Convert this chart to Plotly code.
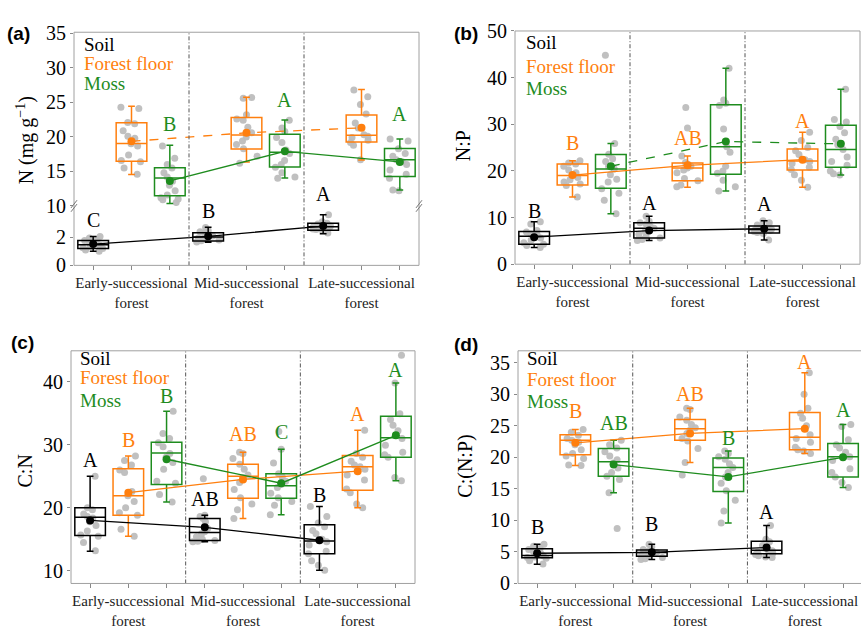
import plotly.graph_objects as go

W, H = 861, 635
SOIL_C, FLOOR_C, MOSS_C = "#000000", "#FF7F0E", "#1E8C1E"
PT_C = "#BDBDBD"
FRAME_C = "#A0A0A0"
SERIF = "Liberation Serif, Times New Roman, serif"

STANDS = ["Early-successional<br>forest", "Mid-successional<br>forest", "Late-successional<br>forest"]
TYPES = ["Soil", "Forest floor", "Moss"]

# ---------------- Panel (a): N (mg g-1) ----------------
A_SOIL_PTS = [[2.05, 1.95, 1.85, 1.78, 1.65, 1.55, 1.5, 1.45, 1.35, 1.25, 1.2, 1.1, 1.0],
              [2.7, 2.5, 2.4, 2.3, 2.2, 2.1, 2.05, 2.0, 1.95, 1.9, 1.8, 1.75, 1.66],
              [3.6, 3.1, 3.0, 2.95, 2.9, 2.85, 2.8, 2.75, 2.7, 2.6, 2.55, 2.5, 2.3]]
A_FLOOR_PTS = [[24.3, 24.1, 22.1, 21.9, 20.9, 20.1, 19.8, 19.0, 18.7, 17.4, 16.6, 16.4, 15.5, 14.6],
               [25.7, 25.6, 23.2, 22.6, 22.4, 21.4, 20.6, 20.0, 19.4, 18.9, 18.3, 17.2, 16.2],
               [26.8, 25.8, 24.7, 23.3, 22.0, 21.3, 20.3, 20.1, 19.9, 19.5, 19.2, 18.8, 16.7]]
A_MOSS_PTS = [[18.7, 16.9, 16.0, 15.5, 14.8, 14.2, 13.6, 13.0, 12.2, 11.6, 11.2, 11.0, 10.5, 10.9],
              [22.4, 21.3, 20.8, 19.9, 19.2, 18.1, 17.6, 16.6, 16.0, 15.6, 14.8, 14.2, 14.0],
              [19.7, 19.4, 18.3, 17.6, 17.2, 16.7, 16.4, 16.0, 15.2, 14.6, 14.0, 12.3, 12.2]]
A_SOIL_BOX = dict(lo=[1.0, 1.65, 2.25], q1=[1.2, 1.74, 2.5], med=[1.47, 2.02, 2.76],
                  q3=[1.78, 2.32, 3.0], hi=[2.05, 2.72, 3.6], mean=[1.52, 2.07, 2.8])
A_FLOOR_BOX = dict(lo=[14.56, 16.38, 16.66], q1=[16.47, 18.24, 19.26], med=[19.03, 20.29, 20.24],
                   q3=[22.06, 22.8, 23.17], hi=[24.43, 25.74, 26.85], mean=[19.36, 20.6, 21.31])
A_MOSS_BOX = dict(lo=[10.37, 14.05, 12.33], q1=[11.49, 15.63, 14.28], med=[14.05, 17.77, 16.7],
                  q3=[15.54, 20.38, 18.33], hi=[18.8, 22.43, 19.68], mean=[13.63, 17.91, 16.38])
A_SOIL_LET = ["C", "B", "A"]
A_FLOOR_LET = ["", "", ""]
A_MOSS_LET = ["B", "A", "A"]

# ---------------- Panel (b): N:P ----------------
B_SOIL_PTS = [[9.1, 8.6, 7.2, 6.9, 6.5, 6.2, 6.0, 5.6, 5.2, 4.6, 4.3, 4.0, 3.6],
              [10.3, 9.2, 8.9, 8.6, 8.1, 7.7, 7.4, 7.0, 6.4, 5.9, 5.6, 5.3, 5.1],
              [9.3, 8.9, 8.4, 8.0, 7.8, 7.5, 7.4, 7.2, 7.0, 6.8, 6.6, 5.2]]
B_FLOOR_PTS = [[22.2, 21.7, 21.5, 21.0, 20.2, 19.6, 19.0, 18.6, 18.1, 17.6, 17.2, 16.9, 14.4],
               [33.6, 29.2, 23.2, 21.8, 21.4, 21.0, 20.6, 20.2, 19.6, 18.4, 17.9, 17.0, 16.6],
               [28.3, 26.5, 25.0, 24.3, 23.5, 22.4, 22.0, 21.6, 20.8, 20.3, 19.2, 18.0, 16.5]]
B_MOSS_PTS = [[44.8, 25.9, 23.6, 22.6, 22.0, 21.0, 20.4, 19.2, 18.2, 17.6, 16.2, 15.2, 13.7, 10.8],
              [42.0, 35.2, 34.5, 34.0, 29.0, 25.2, 24.0, 21.0, 20.0, 19.5, 18.0, 16.6, 15.7],
              [37.5, 31.0, 30.5, 29.5, 28.2, 26.8, 25.6, 24.6, 23.0, 22.0, 21.2, 20.0, 19.4, 19.1]]
B_SOIL_BOX = dict(lo=[3.6, 5.1, 5.2], q1=[4.3, 5.6, 6.7], med=[6.0, 7.7, 7.45],
                  q3=[7.0, 8.9, 8.2], hi=[9.1, 10.3, 9.3], mean=[5.8, 7.2, 7.6])
B_FLOOR_BOX = dict(lo=[14.4, 16.5, 16.5], q1=[17.0, 17.9, 20.2], med=[19.0, 20.6, 22.1],
                   q3=[21.5, 21.7, 24.7], hi=[22.2, 23.2, 28.3], mean=[19.1, 21.2, 22.4])
B_MOSS_BOX = dict(lo=[10.8, 15.7, 19.1], q1=[16.3, 19.3, 20.8], med=[20.4, 25.2, 24.6],
                  q3=[23.5, 34.2, 29.8], hi=[25.9, 42.0, 37.5], mean=[21.0, 26.3, 25.8])
B_SOIL_LET = ["B", "A", "A"]
B_FLOOR_LET = ["B", "AB", "A"]
B_MOSS_LET = ["", "", ""]

# ---------------- Panel (c): C:N ----------------
C_SOIL_PTS = [[25.0, 20.0, 19.7, 19.0, 18.6, 18.4, 17.8, 17.2, 16.3, 15.7, 15.5, 14.5, 13.2],
              [24.6, 18.8, 18.6, 18.3, 17.8, 16.7, 16.2, 15.9, 15.4, 15.0, 14.8, 14.7, 14.6],
              [20.2, 18.6, 17.6, 17.0, 16.4, 15.9, 15.0, 14.6, 14.1, 13.1, 12.7, 11.6, 10.9, 10.1]]
C_FLOOR_PTS = [[28.2, 27.5, 26.8, 26.0, 25.6, 22.6, 21.9, 21.0, 20.0, 19.2, 18.8, 16.6, 15.5],
               [28.8, 28.6, 27.8, 26.9, 26.1, 25.2, 24.8, 24.0, 22.9, 21.6, 20.6, 19.7, 18.3],
               [32.3, 28.6, 28.0, 27.4, 26.8, 26.5, 26.1, 25.2, 24.4, 23.0, 22.4, 20.6, 20.0]]
C_MOSS_PTS = [[35.3, 31.8, 31.0, 30.3, 29.7, 28.6, 28.0, 27.2, 26.1, 24.2, 23.9, 22.1, 20.9],
              [32.1, 29.3, 27.1, 25.4, 24.9, 24.2, 23.7, 23.2, 22.3, 21.6, 21.0, 20.4, 18.9],
              [44.2, 39.8, 34.9, 34.0, 33.1, 32.2, 31.0, 29.9, 28.8, 28.4, 28.0, 24.8, 24.3]]
C_SOIL_BOX = dict(lo=[13.1, 14.6, 10.1], q1=[15.6, 14.8, 12.7], med=[18.5, 16.1, 14.75],
                  q3=[20.0, 18.3, 17.3], hi=[25.0, 18.8, 20.2], mean=[18.0, 16.9, 14.85])
C_FLOOR_BOX = dict(lo=[15.5, 18.3, 20.0], q1=[18.8, 21.5, 22.8], med=[21.9, 25.0, 26.5],
                   q3=[26.2, 26.9, 28.3], hi=[28.2, 28.8, 32.3], mean=[22.4, 24.5, 25.8])
C_MOSS_BOX = dict(lo=[20.9, 18.9, 24.3], q1=[23.7, 21.5, 28.0], med=[28.7, 23.5, 31.1],
                  q3=[30.4, 25.4, 34.5], hi=[35.3, 29.3, 39.8], mean=[27.7, 23.9, 31.5])
C_SOIL_LET = ["A", "AB", "B"]
C_FLOOR_LET = ["B", "AB", "A"]
C_MOSS_LET = ["B", "C", "A"]

# ---------------- Panel (d): C:(N:P) ----------------
D_SOIL_PTS = [[6.2, 5.9, 5.6, 5.4, 5.1, 4.8, 4.5, 4.4, 4.2, 4.1, 4.0, 3.6, 3.1],
              [6.2, 5.8, 5.4, 5.2, 5.0, 4.9, 4.8, 4.7, 4.5, 4.3, 4.1, 3.9, 3.8],
              [9.2, 7.0, 6.6, 6.0, 5.6, 5.3, 5.2, 5.0, 4.8, 4.6, 4.4, 4.2, 4.1]]
D_FLOOR_PTS = [[24.4, 24.0, 23.5, 23.0, 22.7, 22.4, 22.0, 21.2, 20.6, 20.2, 19.8, 18.8, 18.7],
               [27.8, 27.6, 26.4, 25.9, 25.2, 24.7, 24.3, 23.8, 23.0, 22.6, 21.4, 19.2, 17.2],
               [33.4, 30.0, 27.8, 27.0, 26.2, 25.0, 23.6, 23.0, 22.4, 21.6, 21.2, 21.0, 20.6]]
D_MOSS_PTS = [[22.7, 22.0, 21.5, 20.9, 20.2, 19.6, 19.1, 18.3, 17.6, 17.0, 16.5, 14.4, 8.7],
              [21.0, 20.6, 20.1, 19.7, 19.0, 18.4, 17.6, 16.9, 15.9, 14.7, 13.2, 11.5, 9.6],
              [25.2, 24.9, 22.8, 22.0, 21.5, 20.8, 20.1, 19.5, 18.2, 17.6, 16.9, 16.0, 15.2]]
D_SOIL_BOX = dict(lo=[3.06, 3.8, 4.1], q1=[4.08, 4.33, 4.7], med=[4.43, 4.9, 5.25],
                  q3=[5.5, 5.3, 6.7], hi=[6.2, 6.2, 9.2], mean=[4.79, 4.94, 5.7])
D_FLOOR_BOX = dict(lo=[18.7, 19.2, 20.6], q1=[20.4, 22.7, 21.2], med=[22.7, 24.55, 23.2],
                   q3=[23.6, 26.0, 27.1], hi=[24.4, 27.8, 33.4], mean=[22.3, 23.8, 24.55])
D_MOSS_BOX = dict(lo=[14.4, 9.6, 15.2], q1=[17.0, 14.6, 16.9], med=[19.3, 18.4, 20.1],
                  q3=[21.4, 19.9, 22.2], hi=[22.7, 21.0, 25.2], mean=[18.85, 16.9, 20.0])
D_SOIL_LET = ["B", "B", "A"]
D_FLOOR_LET = ["B", "AB", "A"]
D_MOSS_LET = ["AB", "B", "A"]


def px(x):
    return x / W


def py(y):
    return 1 - y / H


fig = go.Figure()
annotations = []
shapes = []

PANELS = [
    dict(tag="(a)", title="N (mg g<sup>−1</sup>)", xa="x", x0=74, x1=419, top=22, bot=263.5,
         ysoil="y", yother="y2", dash_floor="dash", dash_moss="solid",
         data=[(A_SOIL_PTS, A_SOIL_BOX, A_SOIL_LET), (A_FLOOR_PTS, A_FLOOR_BOX, A_FLOOR_LET),
               (A_MOSS_PTS, A_MOSS_BOX, A_MOSS_LET)],
         let_y=[[(3.2, "y"), (3.9, "y"), (11.7, "y2")], [None] * 3, [(21.9, "y2"), (25.4, "y2"), (23.3, "y2")]],
         tag_xy=(18, 23), title_xy=(25, 134), leg=(82, [35, 54, 75])),
    dict(tag="(b)", title="N:P", xa="x2", x0=515, x1=860, top=20.7, bot=262.3,
         ysoil="y3", yother="y3", dash_floor="solid", dash_moss="dash",
         data=[(B_SOIL_PTS, B_SOIL_BOX, B_SOIL_LET), (B_FLOOR_PTS, B_FLOOR_BOX, B_FLOOR_LET),
               (B_MOSS_PTS, B_MOSS_BOX, B_MOSS_LET)],
         let_y=[[11.5, 13.2, 12.9], [26.0, 27.0, 30.6], [None] * 3],
         tag_xy=(466, 23), title_xy=(463, 140), leg=(524, [33, 57, 80])),
    dict(tag="(c)", title="C:N", xa="x3", x0=71, x1=415, top=352, bot=593,
         ysoil="y4", yother="y4", dash_floor="solid", dash_moss="solid",
         data=[(C_SOIL_PTS, C_SOIL_BOX, C_SOIL_LET), (C_FLOOR_PTS, C_FLOOR_BOX, C_FLOOR_LET),
               (C_MOSS_PTS, C_MOSS_BOX, C_MOSS_LET)],
         let_y=[[27.6, 21.4, 22.1], [30.7, 31.7, 34.8], [37.8, 32.0, 41.9]],
         tag_xy=(22, 343), title_xy=(25, 477), leg=(78, [360, 380, 403])),
    dict(tag="(d)", title="C:(N:P)", xa="x4", x0=518, x1=862, top=352, bot=593,
         ysoil="y5", yother="y5", dash_floor="solid", dash_moss="solid",
         data=[(D_SOIL_PTS, D_SOIL_BOX, D_SOIL_LET), (D_FLOOR_PTS, D_FLOOR_BOX, D_FLOOR_LET),
               (D_MOSS_PTS, D_MOSS_BOX, D_MOSS_LET)],
         let_y=[[8.9, 9.4, 11.3], [27.4, 30.0, 35.1], [25.5, 23.0, 27.5]],
         tag_xy=(466, 345), title_xy=(466, 472), leg=(525, [360, 382, 405])),
]

COLORS = [SOIL_C, FLOOR_C, MOSS_C]

for p in PANELS:
    for ti in range(3):
        pts, box, lets = p["data"][ti]
        yax = p["ysoil"] if ti == 0 else p["yother"]
        positions = [1 + ti + 3 * s for s in range(3)]
        col = COLORS[ti]
        xs, ys = [], []
        for s in range(3):
            xs += [positions[s]] * len(pts[s])
            ys += pts[s]
        fig.add_trace(go.Box(x=xs, y=ys, xaxis=p["xa"], yaxis=yax, boxpoints="all", jitter=0.8,
                             pointpos=0, width=0.8, fillcolor="rgba(0,0,0,0)",
                             line=dict(width=0, color="rgba(0,0,0,0)"),
                             marker=dict(color=PT_C, size=7, opacity=0.95),
                             showlegend=False, hoverinfo="skip"))
        fig.add_trace(go.Box(x=positions, q1=box["q1"], median=box["med"], q3=box["q3"],
                             lowerfence=box["lo"], upperfence=box["hi"], xaxis=p["xa"], yaxis=yax,
                             width=0.8, whiskerwidth=0.22, fillcolor="rgba(0,0,0,0)",
                             line=dict(color=col, width=1.5), boxpoints=False,
                             showlegend=False, hoverinfo="skip"))
    for ti in range(3):
        pts, box, lets = p["data"][ti]
        yax = p["ysoil"] if ti == 0 else p["yother"]
        positions = [1 + ti + 3 * s for s in range(3)]
        col = COLORS[ti]
        dash = "solid" if ti == 0 else (p["dash_floor"] if ti == 1 else p["dash_moss"])
        fig.add_trace(go.Scatter(x=positions, y=box["mean"], xaxis=p["xa"], yaxis=yax,
                                 mode="lines+markers", line=dict(color=col, width=1.3, dash=dash),
                                 marker=dict(color=col, size=8), showlegend=False, hoverinfo="skip"))
        for s in range(3):
            ly = p["let_y"][ti][s]
            if ly is None or not lets[s]:
                continue
            if isinstance(ly, tuple):
                yv, yr = ly
            else:
                yv, yr = ly, yax
            annotations.append(dict(x=positions[s], y=yv, xref=p["xa"], yref=yr, text=lets[s],
                                    showarrow=False, font=dict(family=SERIF, size=20, color=col),
                                    xanchor="center", yanchor="middle"))
    for xv in (3.5, 6.5):
        shapes.append(dict(type="line", xref=p["xa"], yref="paper", x0=xv, x1=xv,
                           y0=py(p["bot"]), y1=py(p["top"]),
                           line=dict(color="#555555", width=1, dash="4px,2px,1px,2px")))
    shapes.append(dict(type="rect", xref="paper", yref="paper", x0=px(p["x0"]), x1=px(p["x1"]),
                       y0=py(p["bot"]), y1=py(p["top"]), line=dict(color=FRAME_C, width=1)))
    annotations.append(dict(x=px(p["tag_xy"][0]), y=py(p["tag_xy"][1]), xref="paper", yref="paper",
                            text="<b>" + p["tag"] + "</b>", showarrow=False,
                            font=dict(family="Liberation Sans, Arial, sans-serif", size=19, color="black"),
                            xanchor="center", yanchor="middle"))
    annotations.append(dict(x=px(p["title_xy"][0]), y=py(p["title_xy"][1]), xref="paper", yref="paper",
                            text=p["title"], showarrow=False, textangle=-90,
                            font=dict(family=SERIF, size=20, color="black"),
                            xanchor="center", yanchor="middle"))
    for k in range(3):
        annotations.append(dict(x=px(p["leg"][0]), y=py(p["leg"][1][k]), xref="paper", yref="paper",
                                text=TYPES[k], showarrow=False,
                                font=dict(family=SERIF, size=19, color=COLORS[k]),
                                xanchor="left", yanchor="middle"))

for bx in (74, 419):
    shapes.append(dict(type="line", xref="paper", yref="paper", x0=px(bx - 3), y0=py(208),
                       x1=px(bx + 3), y1=py(200), line=dict(color="#777777", width=1)))
    shapes.append(dict(type="line", xref="paper", yref="paper", x0=px(bx - 3), y0=py(204),
                       x1=px(bx + 3), y1=py(196), line=dict(color="#777777", width=1)))

LABEL_POS = [2, 5, 8]
OTHER_POS = [1, 3, 4, 6, 7, 9]


def xaxis(x0, x1, anchor, rng=(0.5, 9.5)):
    return dict(domain=[px(x0), min(1.0, px(x1))], anchor=anchor, range=list(rng),
                tickvals=LABEL_POS, ticktext=STANDS, ticks="outside", ticklen=4,
                tickcolor="#888888", showgrid=False, zeroline=False, showline=False,
                minor=dict(tickvals=OTHER_POS, ticks="outside", ticklen=4, tickcolor="#888888",
                           showgrid=False),
                tickfont=dict(family=SERIF, size=15, color="#222222"))


def yaxis(top, bot, anchor, rng, dtick):
    return dict(domain=[py(bot), py(top)], anchor=anchor, range=list(rng), dtick=dtick,
                ticks="outside", ticklen=3, tickcolor="#888888", showgrid=False, zeroline=False,
                showline=False, tickfont=dict(family=SERIF, size=20, color="black"))


fig.update_layout(
    width=W, height=H, margin=dict(l=0, r=0, t=0, b=0),
    paper_bgcolor="white", plot_bgcolor="white", boxmode="overlay", showlegend=False,
    font=dict(family=SERIF),
    xaxis=xaxis(74, 419, "y"),
    yaxis=yaxis(202, 263.5, "x", (0, 4.23), 2),
    yaxis2=yaxis(22, 202, "x", (10, 35.15), 5),
    xaxis2=xaxis(515, 860, "y3"),
    yaxis3=yaxis(20.7, 262.3, "x2", (0, 50), 10),
    xaxis3=xaxis(71, 415, "y4"),
    yaxis4=yaxis(352, 593, "x3", (8.0, 44.9), 10),
    xaxis4=xaxis(518, 861, "y5", (0.5, 9.47)),
    yaxis5=yaxis(352, 593, "x4", (0, 36.9), 5),
    annotations=annotations, shapes=shapes,
)
fig.update_layout(yaxis=dict(tickvals=[0, 2]), yaxis2=dict(tickvals=[10, 15, 20, 25, 30, 35]),
                  yaxis4=dict(tickvals=[10, 20, 30, 40]))

fig.write_html("out.html", config={"displayModeBar": False},
               post_script="document.body.style.margin='0px';")
